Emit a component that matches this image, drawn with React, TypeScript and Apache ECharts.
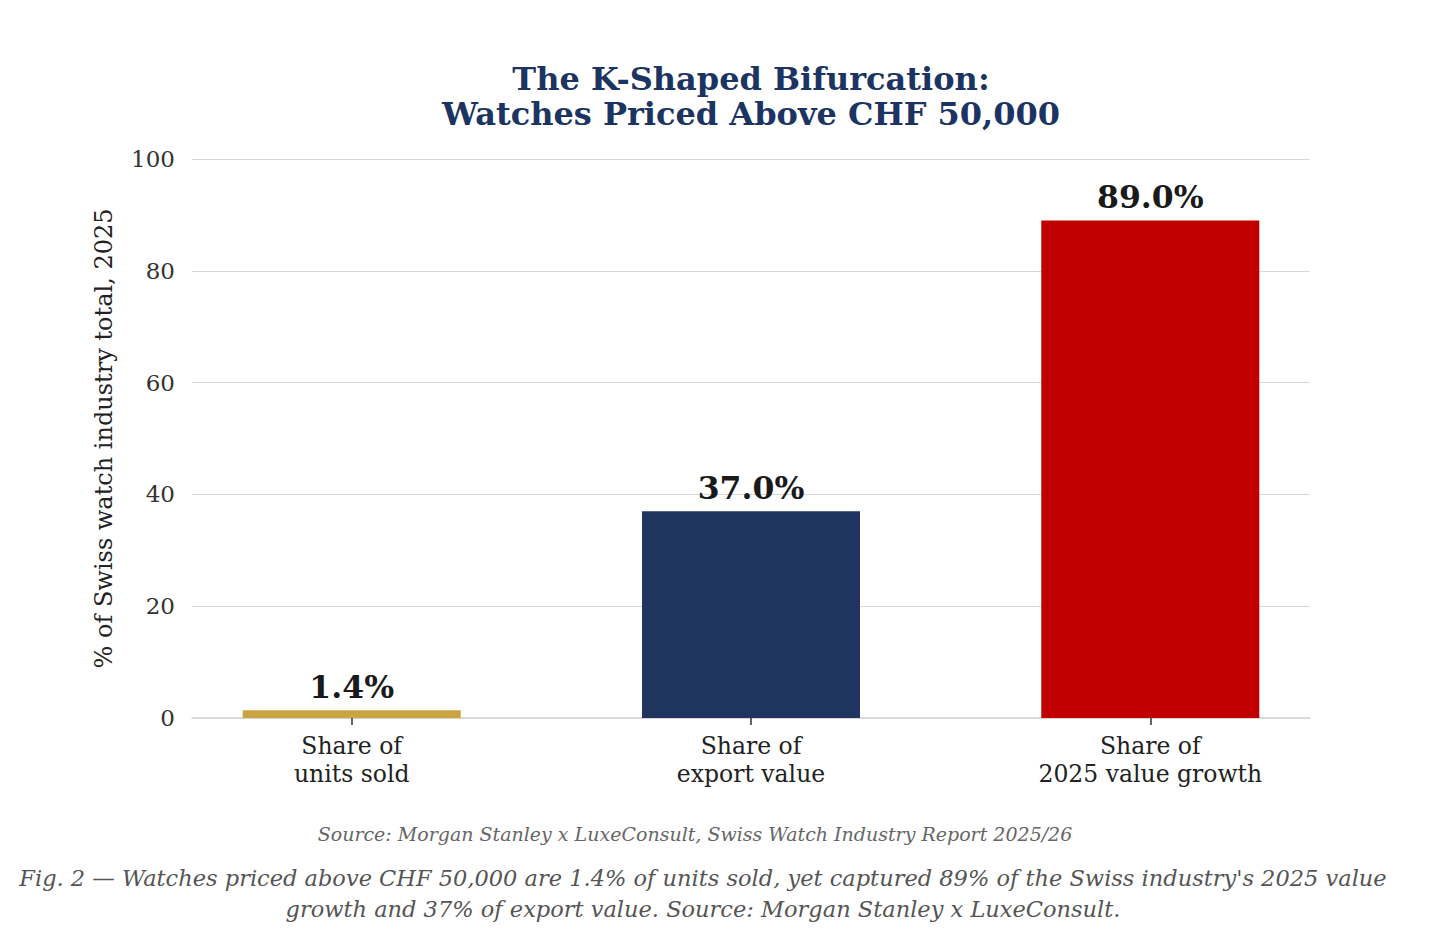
import React, { useEffect, useRef } from 'react';
import * as echarts from 'echarts';

const categories = ['Share of\nunits sold', 'Share of\nexport value', 'Share of\n2025 value growth'];
const shares = [1.4, 37.0, 89.0];
const barColors = ['#C9A441', '#1F3560', '#C00000'];
const yTicks = { min: 0, max: 100, interval: 20 };

const titleLines = ['The K-Shaped Bifurcation:', 'Watches Priced Above CHF 50,000'];
const sourceNote = 'Source: Morgan Stanley x LuxeConsult, Swiss Watch Industry Report 2025/26';
const captionLines = [
  "Fig. 2 \u2014 Watches priced above CHF 50,000 are 1.4% of units sold, yet captured 89% of the Swiss industry's 2025 value",
  'growth and 37% of export value. Source: Morgan Stanley x LuxeConsult.',
];

const FONT = '"DejaVu Serif", serif';

const App: React.FC = () => {
  const chartRef = useRef<HTMLDivElement>(null);

  useEffect(() => {
    const chart = echarts.init(chartRef.current!, undefined, { renderer: 'svg' });

    const positions = categories.map((_, i) => i);

    const option = {
      animation: false,
      backgroundColor: '#ffffff',
      textStyle: { fontFamily: FONT },
      grid: { left: 192, right: 146, top: 159, bottom: 234 },
      xAxis: {
        type: 'value',
        min: -0.4,
        max: 2.4,
        splitLine: { show: false },
        axisLine: { show: true, lineStyle: { color: '#d3d3d3', width: 1.5 } },
        axisTick: {
          show: true,
          customValues: positions,
          length: 7,
          lineStyle: { color: '#333', width: 1.5 },
        },
        axisLabel: {
          customValues: positions,
          formatter: (v: number) => categories[Math.round(v)] ?? '',
          fontFamily: FONT,
          fontSize: 23.5,
          lineHeight: 28,
          color: '#222',
          margin: 14,
        },
      },
      yAxis: {
        type: 'value',
        min: yTicks.min,
        max: yTicks.max,
        interval: yTicks.interval,
        name: '% of Swiss watch industry total, 2025',
        nameLocation: 'middle',
        nameGap: 76,
        nameTextStyle: { fontFamily: FONT, fontSize: 24, color: '#222' },
        axisLine: { show: false },
        axisTick: { show: false },
        axisLabel: { fontFamily: FONT, fontSize: 23, color: '#333', margin: 17 },
        splitLine: { lineStyle: { color: '#d9d9d9', width: 1.2 } },
      },
      series: [
        {
          type: 'bar',
          barWidth: 218,
          data: shares.map((v, i) => ({
            value: [i, v],
            itemStyle: { color: barColors[i] },
          })),
          label: {
            show: true,
            position: 'top',
            distance: 8,
            formatter: (p: any) => `${p.value[1].toFixed(1)}%`,
            fontFamily: FONT,
            fontSize: 31.5,
            fontWeight: 'bold',
            color: '#1a1a1a',
          },
        },
      ],
      graphic: [
        ...titleLines.map((t, i) => ({
          type: 'text',
          x: 751,
          y: 79 + i * 35,
          style: {
            text: t,
            fontFamily: FONT,
            fontSize: 32,
            fontWeight: 'bold',
            fill: '#1B3461',
            textAlign: 'center',
            textVerticalAlign: 'middle',
          },
        })),
        {
          type: 'text',
          x: 695,
          y: 834,
          style: {
            text: sourceNote,
            fontFamily: FONT,
            fontStyle: 'italic',
            fontSize: 19,
            fill: '#666',
            textAlign: 'center',
            textVerticalAlign: 'middle',
          },
        },
        ...captionLines.map((t, i) => ({
          type: 'text',
          x: 703,
          y: 878 + i * 31,
          style: {
            text: t,
            fontFamily: FONT,
            fontStyle: 'italic',
            fontSize: 22.5,
            fill: '#555',
            textAlign: 'center',
            textVerticalAlign: 'middle',
          },
        })),
      ],
    };

    chart.setOption(option as any);

    return () => {
      chart.dispose();
    };
  }, []);

  return (
    <div
      ref={chartRef}
      style={{ position: 'fixed', left: 0, top: 0, width: '1456px', height: '952px' }}
    />
  );
};

export default App;
